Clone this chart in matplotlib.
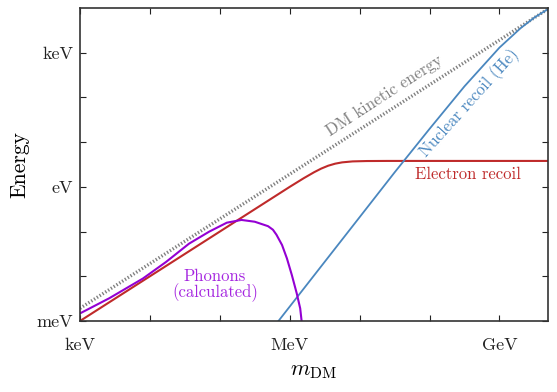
import matplotlib
matplotlib.use("Agg")
import matplotlib.pyplot as plt

plt.rcParams['font.family'] = 'serif'
plt.rcParams['font.serif'] = ['cmr10']
plt.rcParams['mathtext.fontset'] = 'cm'
plt.rcParams['axes.unicode_minus'] = False

# ---- data (eV units) ----
ke_mass = [1.0e3, 4.95e9]
ke_energy = [1.92e-3, 9.5e3]

electron_mass = [1.0e3, 1.0e6, 1.585e6, 2.239e6, 2.818e6, 3.548e6, 4.467e6, 5.623e6,
                 7.943e6, 1.259e7, 2.512e7, 4.95e9]
electron_energy = [1.0e-3, 1.0, 1.56, 2.13, 2.56, 2.97, 3.30, 3.53, 3.71, 3.78, 3.80, 3.80]

nuclear_mass = [6.9e5, 3.16e6, 1.0e7, 3.16e7, 1.0e8, 3.16e8, 1.0e9, 2.0e9, 3.16e9, 4.95e9]
nuclear_energy = [1.0e-3, 0.021, 0.21, 2.1, 19.8, 177, 1300, 3520, 6120, 9460]

phonon_mass = [1.0e3, 2.63e3, 7.94e3, 1.70e4, 3.63e4, 7.08e4, 1.259e5, 2.042e5, 3.162e5,
               4.898e5, 5.75e5, 6.457e5, 7.762e5, 9.12e5, 1.0715e6, 1.259e6, 1.4125e6, 1.479e6]
phonon_energy = [1.479e-3, 3.236e-3, 8.91e-3, 2.09e-2, 5.37e-2, 0.100, 0.158, 0.182, 0.166,
                 0.132, 0.110, 0.0851, 0.0501, 0.0251, 0.0107, 4.17e-3, 1.91e-3, 1.0e-3]

x_ticks = [1e3, 1e4, 1e5, 1e6, 1e7, 1e8, 1e9]
x_ticklabels = ['keV', '', '', 'MeV', '', '', 'GeV']
y_ticks = [1e-3, 1e-2, 1e-1, 1e0, 1e1, 1e2, 1e3]
y_ticklabels = ['meV', '', '', 'eV', '', '', 'keV']

red = '#bf2a2a'
blue = '#4a87bf'
purple = '#9400d3'
grey = '#7f7f7f'

fig = plt.figure(figsize=(5.57, 3.92), dpi=100)
ax = fig.add_axes([80/557, 1-321/392, 468/557, 313/392])
ax.set_xscale('log')
ax.set_yscale('log')
ax.set_xlim(1e3, 4.95e9)
ax.set_ylim(1e-3, 1e4)

ax.plot(ke_mass, ke_energy, color=grey, lw=2.4, linestyle=(0, (0.4, 0.6)),
        dash_capstyle='butt', solid_capstyle='butt')
ax.plot(electron_mass, electron_energy, color=red, lw=1.5)
ax.plot(nuclear_mass, nuclear_energy, color=blue, lw=1.3)
ax.plot(phonon_mass, phonon_energy, color=purple, lw=1.5, solid_joinstyle='round')

ax.text(10**7.35, 10**2.03, 'DM kinetic energy', color=grey, fontsize=12,
        rotation=33, ha='center', va='center', rotation_mode='anchor')
ax.text(10**8.565, 10**1.88, 'Nuclear recoil (He)', color=blue, fontsize=12,
        rotation=48, ha='center', va='center', rotation_mode='anchor')
ax.text(10**8.55, 10**0.29, 'Electron recoil', color=red, fontsize=12,
        ha='center', va='center')
ax.text(10**4.93, 10**-2.2, 'Phonons\n(calculated)', color='#a526e0', fontsize=12,
        ha='center', va='center', linespacing=0.95)

ax.set_xticks(x_ticks)
ax.set_xticklabels(x_ticklabels)
ax.set_yticks(y_ticks)
ax.set_yticklabels(y_ticklabels)
ax.minorticks_off()
ax.tick_params(axis='both', which='major', direction='in', length=4.5, width=0.8,
               top=True, right=True, labelsize=13, colors='#222222')
ax.tick_params(axis='x', pad=12)
ax.tick_params(axis='y', pad=5)
for sp in ax.spines.values():
    sp.set_linewidth(1.2)
    sp.set_color('#333333')

ax.set_xlabel(r'$m_{\rm DM}$', fontsize=16, labelpad=6)
ax.set_ylabel('Energy', fontsize=15.5, labelpad=5)

fig.savefig('out.png', dpi=100)
